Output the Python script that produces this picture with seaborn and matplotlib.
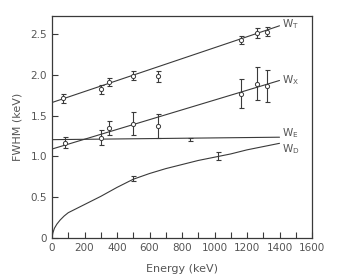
import numpy as np
import pandas as pd
import matplotlib
matplotlib.use("Agg")
import matplotlib.pyplot as plt
import seaborn as sns
from matplotlib.ticker import MultipleLocator

# ---- data ----
# fitted lines
line_T_E = [0, 1400]
line_T_W = [1.66, 2.60]
line_X_E = [0, 1400]
line_X_W = [1.09, 1.93]
line_E_E = [0, 1400]
line_E_W = [1.205, 1.235]
curve_D_E = [0, 5, 15, 30, 50, 75, 100, 150, 200, 300, 400, 500, 600, 700, 800, 900, 1000, 1100, 1200, 1300, 1400]
curve_D_W = [0, 0.06, 0.12, 0.17, 0.22, 0.27, 0.31, 0.36, 0.41, 0.51, 0.62, 0.72, 0.79, 0.85, 0.90, 0.95, 0.99, 1.03, 1.08, 1.12, 1.16]

# measured points
pts_T_E = [70, 300, 350, 500, 650, 1160, 1260, 1320]
pts_T_W = [1.71, 1.82, 1.91, 1.99, 1.98, 2.43, 2.51, 2.53]
pts_T_err = [0.055, 0.06, 0.05, 0.055, 0.07, 0.05, 0.06, 0.06]

pts_X_E = [80, 300, 350, 500, 650, 1160, 1260, 1320]
pts_X_W = [1.17, 1.23, 1.35, 1.40, 1.37, 1.77, 1.89, 1.86]
pts_X_err = [0.07, 0.09, 0.085, 0.14, 0.15, 0.18, 0.20, 0.195]

pts_E_E = [850]
pts_E_W = [1.21]
pts_E_err = [0.02]

pts_D_E = [500, 1020]
pts_D_W = [0.73, 1.00]
pts_D_err = [0.03, 0.05]

labels = ["W$_\\mathregular{T}$", "W$_\\mathregular{X}$", "W$_\\mathregular{E}$", "W$_\\mathregular{D}$"]
label_y = [2.62, 1.94, 1.28, 1.09]

x_ticks = [0, 200, 400, 600, 800, 1000, 1200, 1400, 1600]
y_ticks = [0, 0.5, 1.0, 1.5, 2.0, 2.5]
y_tick_labels = ["0", "0.5", "1.0", "1.5", "2.0", "2.5"]

# ---- plotting ----
sns.set_style("white")
plt.rcParams["font.family"] = ["DejaVu Sans"]
ink = "#3a3a3a"
txt = "#555555"

fig = plt.figure(figsize=(3.37, 2.80), dpi=100)
ax = fig.add_axes([52/337, 42/280, 260/337, 222/280])

lines = [(line_T_E, line_T_W), (line_X_E, line_X_W), (line_E_E, line_E_W), (curve_D_E, curve_D_W)]
for (ex, wy) in lines:
    df = pd.DataFrame({"E": ex, "W": wy})
    sns.lineplot(data=df, x="E", y="W", ax=ax, color=ink, lw=0.8, sort=False)

pts = [(pts_T_E, pts_T_W, pts_T_err, True), (pts_X_E, pts_X_W, pts_X_err, True),
       (pts_E_E, pts_E_W, pts_E_err, False), (pts_D_E, pts_D_W, pts_D_err, False)]
for ex, wy, er, circ in pts:
    ax.errorbar(ex, wy, yerr=er, fmt="none", ecolor=ink, elinewidth=0.8, capsize=1.8, capthick=0.8)
    if circ:
        df = pd.DataFrame({"E": ex, "W": wy})
        sns.scatterplot(data=df, x="E", y="W", ax=ax, s=9, facecolor="white",
                        edgecolor=ink, linewidth=0.7, zorder=5)

for lab, yy in zip(labels, label_y):
    ax.text(1415, yy, lab, fontsize=7.5, color=txt, va="center", ha="left")

ax.set_xlim(0, 1600)
ax.set_ylim(0, 2.72)
ax.set_xticks(x_ticks)
ax.xaxis.set_minor_locator(MultipleLocator(100))
ax.set_yticks(y_ticks)
ax.set_yticklabels(y_tick_labels)
ax.tick_params(axis="both", which="both", direction="in", color=ink, labelcolor=txt,
               labelsize=7.5, top=False, right=False, bottom=True, left=True)
ax.tick_params(axis="both", which="major", length=4, width=0.8)
ax.tick_params(axis="x", which="minor", length=4, width=0.8)
for s in ax.spines.values():
    s.set_color(ink)
    s.set_linewidth(0.9)
ax.set_xlabel("Energy (keV)", fontsize=8, color=txt, labelpad=8)
ax.set_ylabel("FWHM (keV)", fontsize=8, color=txt, labelpad=6)

fig.savefig("out.png", dpi=100)
